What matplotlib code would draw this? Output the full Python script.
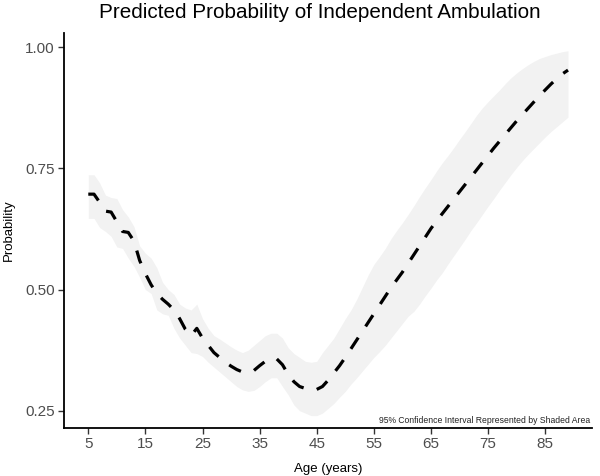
import matplotlib
matplotlib.use("Agg")
import matplotlib.pyplot as plt

ages = list(range(5, 90))
prob = [0.697, 0.697, 0.680, 0.662, 0.660, 0.640, 0.620, 0.618, 0.600, 0.560,
        0.533, 0.510, 0.492, 0.480, 0.470, 0.458, 0.440, 0.418, 0.405, 0.420,
        0.400, 0.385, 0.370, 0.360, 0.350, 0.342, 0.335, 0.330, 0.330, 0.333,
        0.343, 0.352, 0.358, 0.357, 0.345, 0.325, 0.310, 0.300, 0.296, 0.293,
        0.294, 0.300, 0.313, 0.328, 0.343, 0.360, 0.378, 0.396, 0.414, 0.432,
        0.450, 0.468, 0.486, 0.504, 0.520, 0.536, 0.554, 0.572, 0.590, 0.608,
        0.626, 0.642, 0.657, 0.672, 0.687, 0.702, 0.717, 0.732, 0.747, 0.762,
        0.777, 0.792, 0.806, 0.820, 0.834, 0.848, 0.861, 0.874, 0.887, 0.900,
        0.912, 0.924, 0.935, 0.945, 0.953]
lower = [0.647, 0.647, 0.628, 0.620, 0.610, 0.588, 0.585, 0.565, 0.548, 0.525,
         0.500, 0.492, 0.458, 0.450, 0.447, 0.420, 0.400, 0.385, 0.370, 0.368,
         0.362, 0.350, 0.340, 0.330, 0.320, 0.310, 0.300, 0.293, 0.290, 0.292,
         0.300, 0.310, 0.318, 0.318, 0.300, 0.283, 0.262, 0.250, 0.245, 0.240,
         0.240, 0.245, 0.255, 0.265, 0.278, 0.290, 0.305, 0.318, 0.332, 0.346,
         0.360, 0.372, 0.385, 0.400, 0.415, 0.430, 0.445, 0.455, 0.470, 0.487,
         0.503, 0.520, 0.535, 0.553, 0.570, 0.587, 0.604, 0.622, 0.638, 0.655,
         0.672, 0.688, 0.705, 0.721, 0.737, 0.752, 0.766, 0.779, 0.791, 0.803,
         0.815, 0.826, 0.836, 0.846, 0.856]
upper = [0.737, 0.737, 0.720, 0.695, 0.690, 0.688, 0.665, 0.650, 0.630, 0.590,
         0.575, 0.565, 0.545, 0.515, 0.500, 0.490, 0.470, 0.462, 0.458, 0.470,
         0.440, 0.420, 0.405, 0.398, 0.390, 0.382, 0.375, 0.370, 0.375, 0.385,
         0.395, 0.405, 0.410, 0.410, 0.400, 0.380, 0.368, 0.360, 0.352, 0.350,
         0.352, 0.370, 0.385, 0.400, 0.420, 0.440, 0.458, 0.480, 0.505, 0.530,
         0.552, 0.568, 0.585, 0.605, 0.622, 0.638, 0.655, 0.673, 0.692, 0.710,
         0.727, 0.745, 0.762, 0.777, 0.793, 0.810, 0.826, 0.843, 0.860, 0.875,
         0.888, 0.900, 0.912, 0.925, 0.937, 0.947, 0.956, 0.964, 0.971, 0.977,
         0.981, 0.985, 0.988, 0.991, 0.993]

xticks = [5, 15, 25, 35, 45, 55, 65, 75, 85]
yticks = [0.25, 0.50, 0.75, 1.00]
ytick_labels = ["0.25", "0.50", "0.75", "1.00"]

plt.rcParams['font.family'] = ['Liberation Sans', 'DejaVu Sans']

W, H = 600, 476
fig = plt.figure(figsize=(W / 100, H / 100), dpi=100)
left, right, bottom, top = 64.3, 592.0, 427.7, 32.8
ax = fig.add_axes([left / W, (H - bottom) / H, (right - left) / W, (bottom - top) / H])

ax.fill_between(ages, lower, upper, color="#F2F2F2", linewidth=0)
ax.plot(ages, prob, color="black", linewidth=2.3, linestyle=(0, (4.2, 4.2)))

ax.set_xlim(0.8, 93.2)
ax.set_ylim(0.215, 1.03)
ax.set_xticks(xticks)
ax.set_xticklabels([str(t) for t in xticks])
ax.set_yticks(yticks)
ax.set_yticklabels(ytick_labels)

for s in ["top", "right"]:
    ax.spines[s].set_visible(False)
for s in ["left", "bottom"]:
    ax.spines[s].set_linewidth(1.3)
    ax.spines[s].set_color("black")

ax.tick_params(axis="both", length=4, width=1.0, color="#333333",
               labelcolor="#4D4D4D", labelsize=11, pad=3)

ax.set_xlabel("Age (years)", fontsize=9.5, labelpad=8)
ax.set_ylabel("Probability", fontsize=9.5, labelpad=7)
fig.text(320 / W, 1 - 13 / H, "Predicted Probability of Independent Ambulation",
         ha="center", va="center", fontsize=14.9)
ax.text(0.996, 0.008, "95% Confidence Interval Represented by Shaded Area",
        transform=ax.transAxes, ha="right", va="bottom", fontsize=6.2, color="#222222")

fig.savefig("out.png", dpi=100, facecolor="white")
